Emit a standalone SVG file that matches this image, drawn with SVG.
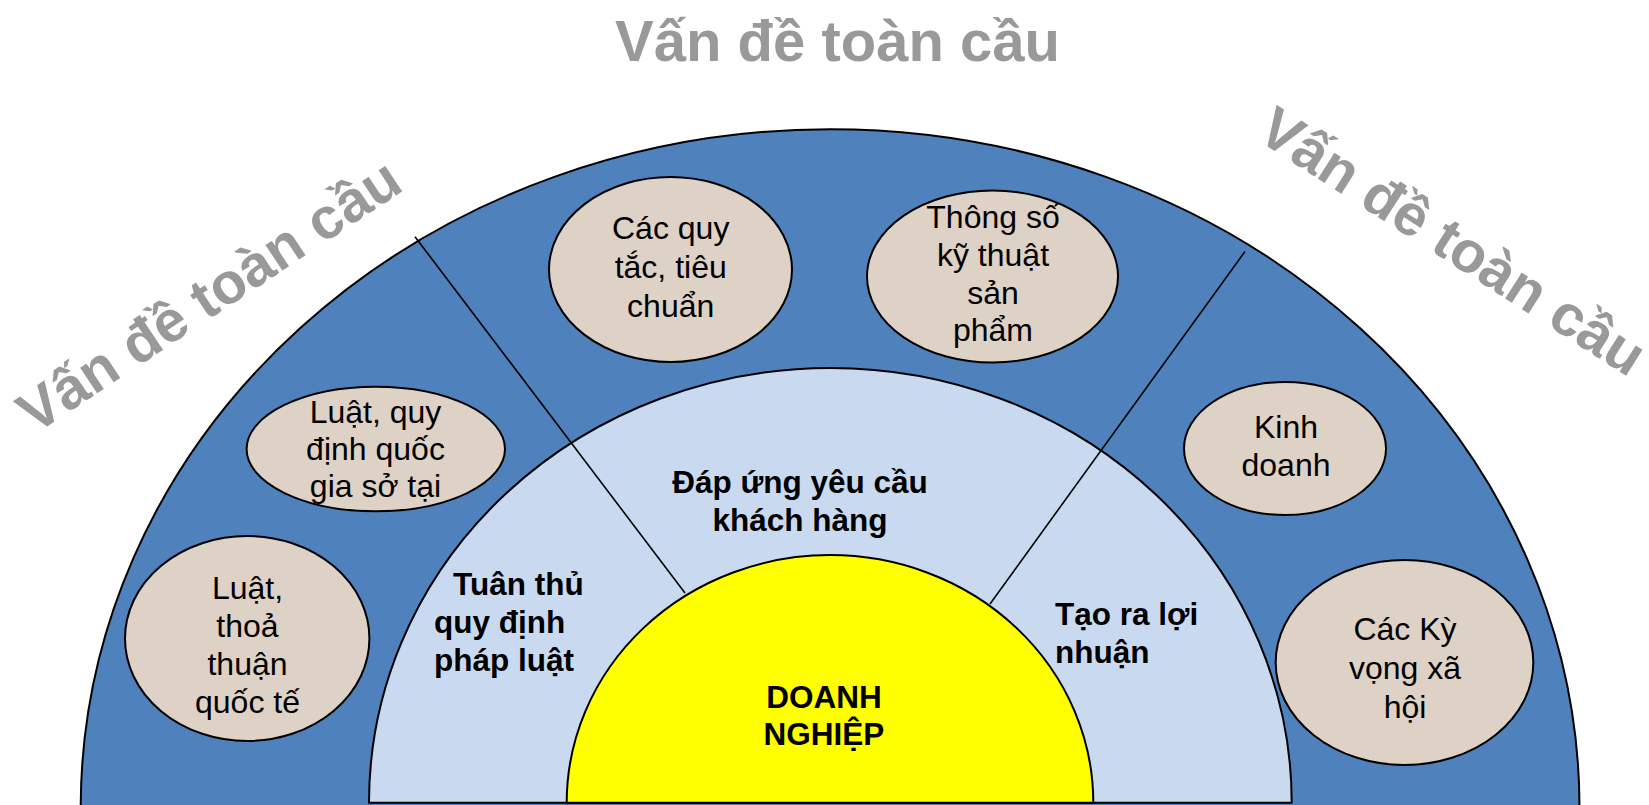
<svg xmlns="http://www.w3.org/2000/svg" width="1649" height="805" viewBox="0 0 1649 805">
<style>
.stk{stroke:#000;stroke-width:2}
.oval{fill:#DED1C6;stroke:#000;stroke-width:2}
.t{font-family:"Liberation Sans",Arial,sans-serif;font-size:32px;fill:#000;text-anchor:middle}
.b{font-family:"Liberation Sans",Arial,sans-serif;font-size:31.5px;font-weight:bold;fill:#000}
.g{font-family:"Liberation Sans",Arial,sans-serif;font-size:58px;font-weight:bold;fill:#999999;text-anchor:middle}
</style>
<rect width="1649" height="805" fill="#fff"/>
<g id="outer-ring">
<path d="M80.7,808 A749.4,679 0 0 1 1579.5,808 Z" fill="#4F81BD" class="stk"/>
</g>
<g id="middle-ring">
<path d="M369,802.7 A461.3,434.7 0 0 1 1291.7,802.7 Z" fill="#C9DAF0" class="stk"/>
</g>
<g id="core">
<path d="M566.7,802.7 A263.3,247.7 0 0 1 1093.3,802.7 Z" fill="#FFFF00" class="stk"/>
<text class="b" x="824" y="708.3" text-anchor="middle">DOANH</text>
<text class="b" x="824" y="745" text-anchor="middle">NGHIỆP</text>
</g>
<g id="connectors" stroke="#000" stroke-width="1.6" fill="none">
<line x1="415" y1="236.7" x2="685" y2="593"/>
<line x1="1245" y1="251.5" x2="990" y2="604"/>
</g>
<g id="sector-labels">
<g id="lbl-dap-ung">
<text class="b" x="800" y="493" text-anchor="middle">Đáp ứng yêu cầu</text>
<text class="b" x="800" y="531" text-anchor="middle">khách hàng</text>
</g>
<g id="lbl-tuan-thu">
<text class="b" x="453" y="595">Tuân thủ</text>
<text class="b" x="434" y="633">quy định</text>
<text class="b" x="434" y="671">pháp luật</text>
</g>
<g id="lbl-tao-ra">
<text class="b" x="1055" y="625">Tạo ra lợi</text>
<text class="b" x="1055" y="662.7">nhuận</text>
</g>
</g>
<g id="node-luat-quoc-te">
<ellipse class="oval" cx="247.2" cy="638.5" rx="122.2" ry="102.5"/>
<text class="t" x="247.5" y="599.3">Luật,</text>
<text class="t" x="247.5" y="637.3">thoả</text>
<text class="t" x="247.5" y="675">thuận</text>
<text class="t" x="247.5" y="713.3">quốc tế</text>
</g>
<g id="node-luat-quoc-gia">
<ellipse class="oval" cx="375.8" cy="449" rx="129.2" ry="62.3"/>
<text class="t" x="375.5" y="422.7">Luật, quy</text>
<text class="t" x="375.5" y="460">định quốc</text>
<text class="t" x="375.5" y="497.3">gia sở tại</text>
</g>
<g id="node-quy-tac">
<ellipse class="oval" cx="670.5" cy="269.5" rx="121.5" ry="92.5"/>
<text class="t" x="670.7" y="239">Các quy</text>
<text class="t" x="670.7" y="278">tắc, tiêu</text>
<text class="t" x="670.7" y="317">chuẩn</text>
</g>
<g id="node-thong-so">
<ellipse class="oval" cx="992.5" cy="276.5" rx="125.5" ry="86"/>
<text class="t" x="993" y="227.7">Thông số</text>
<text class="t" x="993" y="266">kỹ thuật</text>
<text class="t" x="993" y="304">sản</text>
<text class="t" x="993" y="341">phẩm</text>
</g>
<g id="node-kinh-doanh">
<ellipse class="oval" cx="1285" cy="448.5" rx="101" ry="66.5"/>
<text class="t" x="1286" y="437.5">Kinh</text>
<text class="t" x="1286" y="476">doanh</text>
</g>
<g id="node-ky-vong">
<ellipse class="oval" cx="1404.5" cy="662.5" rx="128.8" ry="102.5"/>
<text class="t" x="1405" y="640">Các Kỳ</text>
<text class="t" x="1405" y="679.4">vọng xã</text>
<text class="t" x="1405" y="717.8">hội</text>
</g>
<g id="global-labels">
<text class="g" x="837.5" y="61">Vấn đề toàn cầu</text>
<text class="g" transform="translate(220,312) rotate(-33.5)" x="0" y="0">Vấn đề toàn cầu</text>
<text class="g" transform="translate(1442,258) rotate(32.6)" x="0" y="0">Vấn đề toàn cầu</text>
</g>
</svg>
